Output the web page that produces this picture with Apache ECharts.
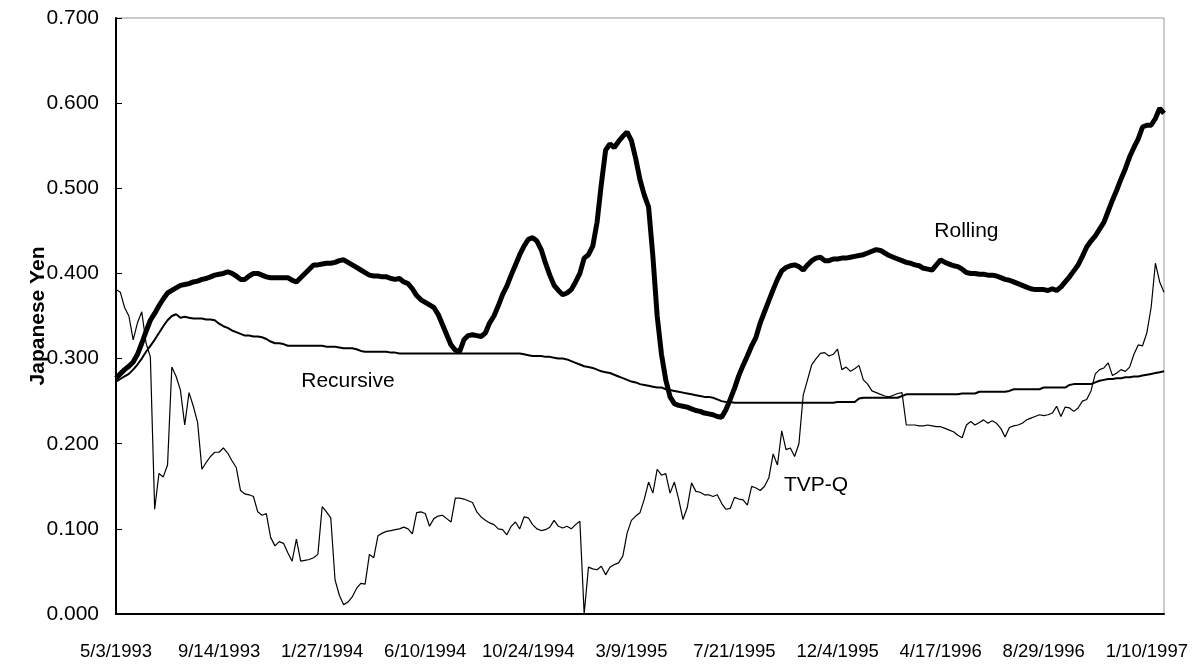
<!DOCTYPE html>
<html><head><meta charset="utf-8">
<script src="https://cdn.jsdelivr.net/npm/echarts/dist/echarts.min.js"></script>
<style>html,body{margin:0;padding:0;background:#fff}#c{width:1192px;height:669px}</style>
</head><body><div id="c"></div>
<script>
// Tick labels on the category axis (one every 24 samples; samples are every 4 trading days)
const tickLabels = ['5/3/1993','9/14/1993','1/27/1994','6/10/1994','10/24/1994','3/9/1995','7/21/1995','12/4/1995','4/17/1996','8/29/1996','1/10/1997'];
const samplesPerTick = 24;

const rolling = [
0.277,0.282,0.287,0.291,0.296,0.305,0.318,0.332,0.345,0.353,0.362,0.370,0.377,0.380,0.383,0.386,0.387,0.388,0.390,0.391,0.393,0.394,0.396,0.398,
0.399,0.400,0.402,0.400,0.397,0.393,0.393,0.397,0.400,0.400,0.398,0.396,0.395,0.395,0.395,0.395,0.395,0.392,0.390,0.395,0.400,0.405,0.410,0.410,
0.411,0.412,0.412,0.413,0.415,0.416,0.413,0.410,0.407,0.404,0.401,0.398,0.397,0.397,0.396,0.396,0.394,0.393,0.394,0.390,0.388,0.382,0.374,0.369,
0.366,0.363,0.360,0.352,0.340,0.328,0.316,0.310,0.308,0.322,0.327,0.328,0.327,0.326,0.330,0.342,0.350,0.362,0.375,0.385,0.398,0.410,0.422,0.432,
0.440,0.442,0.438,0.428,0.412,0.398,0.386,0.380,0.375,0.377,0.381,0.390,0.400,0.418,0.422,0.432,0.460,0.505,0.545,0.552,0.548,0.555,0.561,0.566,
0.556,0.535,0.510,0.492,0.478,0.420,0.350,0.305,0.275,0.255,0.247,0.245,0.244,0.243,0.241,0.239,0.238,0.236,0.235,0.234,0.232,0.231,0.240,0.252,
0.265,0.280,0.292,0.303,0.315,0.325,0.342,0.355,0.368,0.381,0.393,0.403,0.407,0.409,0.410,0.408,0.404,0.410,0.415,0.418,0.419,0.415,0.415,0.417,
0.417,0.418,0.418,0.419,0.420,0.421,0.422,0.424,0.426,0.428,0.427,0.424,0.421,0.419,0.417,0.415,0.413,0.412,0.410,0.409,0.406,0.405,0.404,0.410,
0.416,0.413,0.411,0.409,0.408,0.405,0.401,0.400,0.400,0.399,0.399,0.398,0.398,0.397,0.395,0.393,0.392,0.390,0.388,0.386,0.384,0.382,0.381,0.381,
0.381,0.380,0.382,0.380,0.384,0.390,0.396,0.403,0.410,0.420,0.431,0.438,0.444,0.452,0.460,0.473,0.486,0.498,0.511,0.523,0.537,0.548,0.558,0.572,
0.574,0.574,0.582,0.594,0.588];

const recursive = [
0.273,0.276,0.279,0.282,0.287,0.293,0.300,0.308,0.315,0.322,0.330,0.338,0.345,0.350,0.352,0.348,0.349,0.348,0.347,0.347,0.347,0.346,0.346,0.345,
0.341,0.338,0.336,0.333,0.331,0.329,0.327,0.327,0.326,0.326,0.325,0.323,0.320,0.318,0.318,0.317,0.315,0.315,0.315,0.315,0.315,0.315,0.315,0.315,
0.315,0.314,0.314,0.314,0.313,0.312,0.312,0.312,0.311,0.309,0.308,0.308,0.308,0.308,0.308,0.308,0.307,0.307,0.306,0.306,0.306,0.306,0.306,0.306,
0.306,0.306,0.306,0.306,0.306,0.306,0.306,0.306,0.306,0.306,0.306,0.306,0.306,0.306,0.306,0.306,0.306,0.306,0.306,0.306,0.306,0.306,0.306,0.305,
0.304,0.303,0.303,0.303,0.302,0.302,0.301,0.300,0.300,0.299,0.297,0.295,0.293,0.291,0.290,0.289,0.287,0.285,0.284,0.283,0.281,0.279,0.277,0.275,
0.273,0.272,0.270,0.269,0.268,0.267,0.266,0.266,0.264,0.263,0.262,0.261,0.260,0.259,0.258,0.257,0.256,0.255,0.255,0.254,0.252,0.250,0.249,0.249,
0.248,0.248,0.248,0.248,0.248,0.248,0.248,0.248,0.248,0.248,0.248,0.248,0.248,0.248,0.248,0.248,0.248,0.248,0.248,0.248,0.248,0.248,0.248,0.248,
0.249,0.249,0.249,0.249,0.249,0.253,0.254,0.254,0.254,0.254,0.254,0.254,0.254,0.254,0.254,0.256,0.258,0.258,0.258,0.258,0.258,0.258,0.258,0.258,
0.258,0.258,0.258,0.258,0.258,0.259,0.259,0.259,0.259,0.261,0.261,0.261,0.261,0.261,0.261,0.261,0.262,0.264,0.264,0.264,0.264,0.264,0.264,0.264,
0.266,0.266,0.266,0.266,0.266,0.266,0.269,0.270,0.270,0.270,0.270,0.270,0.272,0.274,0.275,0.276,0.276,0.277,0.277,0.278,0.278,0.279,0.279,0.280,
0.281,0.282,0.283,0.284,0.285];

const tvpq = [
0.381,0.378,0.360,0.350,0.322,0.342,0.355,0.318,0.302,0.123,0.165,0.161,0.175,0.290,0.279,0.263,0.222,0.260,0.244,0.225,0.170,0.178,0.185,0.190,
0.190,0.195,0.189,0.180,0.172,0.145,0.141,0.140,0.138,0.120,0.116,0.118,0.090,0.080,0.085,0.083,0.072,0.062,0.088,0.062,0.063,0.064,0.066,0.070,
0.126,0.120,0.113,0.040,0.022,0.011,0.014,0.020,0.030,0.036,0.035,0.070,0.066,0.092,0.095,0.097,0.098,0.099,0.100,0.102,0.100,0.094,0.119,0.120,
0.118,0.103,0.112,0.115,0.116,0.112,0.108,0.136,0.136,0.135,0.133,0.131,0.120,0.114,0.110,0.107,0.105,0.100,0.099,0.093,0.103,0.108,0.100,0.114,
0.113,0.105,0.100,0.098,0.099,0.102,0.110,0.103,0.101,0.103,0.100,0.105,0.109,0.000,0.055,0.053,0.052,0.056,0.046,0.055,0.058,0.060,0.068,0.095,
0.110,0.115,0.119,0.135,0.155,0.142,0.170,0.163,0.165,0.142,0.155,0.135,0.111,0.125,0.154,0.144,0.143,0.140,0.140,0.138,0.140,0.130,0.123,0.124,
0.137,0.135,0.134,0.128,0.150,0.148,0.145,0.150,0.160,0.188,0.175,0.215,0.193,0.195,0.185,0.200,0.257,0.275,0.293,0.300,0.306,0.307,0.303,0.305,
0.311,0.287,0.290,0.285,0.288,0.292,0.275,0.270,0.262,0.260,0.258,0.256,0.255,0.257,0.259,0.260,0.222,0.222,0.222,0.221,0.221,0.222,0.221,0.220,
0.220,0.218,0.216,0.214,0.210,0.207,0.222,0.226,0.222,0.225,0.228,0.224,0.227,0.224,0.218,0.208,0.219,0.221,0.222,0.224,0.228,0.230,0.232,0.234,
0.233,0.234,0.236,0.244,0.232,0.243,0.242,0.238,0.242,0.250,0.252,0.262,0.282,0.287,0.289,0.295,0.280,0.283,0.287,0.285,0.290,0.305,0.316,0.315,
0.330,0.360,0.412,0.390,0.378];

const seriesNames = ['Rolling', 'Recursive', 'TVP-Q'];
// label anchors in data units: [sample index, value]
const labelAnchors = { 'Rolling': [198, 0.45], 'Recursive': [54, 0.274], 'TVP-Q': [163, 0.151] };

const categories = rolling.map((_, i) => i % samplesPerTick === 0 ? tickLabels[i / samplesPerTick] : String(i));

const FONT = '"Liberation Sans", Arial, sans-serif';

function mkSeries(name, data, width, z) {
  return {
    name: name, type: 'line', data: data, showSymbol: false, symbol: 'none',
    lineStyle: { color: '#000', width: width }, z: z, animation: false,
    markPoint: {
      symbol: 'circle', symbolSize: 1, itemStyle: { color: 'rgba(0,0,0,0)' },
      label: { show: true, position: 'inside', formatter: name, color: '#000', fontSize: 21, fontFamily: FONT },
      data: [{ coord: labelAnchors[name] }]
    }
  };
}

const chart = echarts.init(document.getElementById('c'), null, { renderer: 'canvas' });
chart.setOption({
  animation: false,
  backgroundColor: '#fff',
  grid: { left: 116, right: 28, top: 18, bottom: 55, show: true, borderColor: '#999', borderWidth: 1 },
  xAxis: {
    type: 'category', data: categories, boundaryGap: false,
    axisLine: { lineStyle: { color: '#000', width: 2 } },
    axisTick: { show: false },
    splitLine: { show: false },
    axisLabel: {
      interval: samplesPerTick - 1, margin: 28, color: '#000', fontSize: 18.5, fontFamily: FONT,
      formatter: v => tickLabels.indexOf(v) >= 0 ? v : ''
    }
  },
  yAxis: {
    type: 'value', min: 0, max: 0.7, interval: 0.1,
    name: 'Japanese Yen', nameLocation: 'middle', nameGap: 67, nameMoveOverlap: false,
    nameTextStyle: { color: '#000', fontSize: 21, fontWeight: 'bold', fontFamily: FONT },
    axisLine: { show: true, lineStyle: { color: '#000', width: 2 } },
    axisTick: { show: true, inside: true, length: 6, lineStyle: { color: '#000' } },
    splitLine: { show: false },
    axisLabel: { margin: 17, color: '#000', fontSize: 21, fontFamily: FONT, formatter: v => v.toFixed(3) }
  },
  series: [
    mkSeries('TVP-Q', tvpq, 1.2, 2),
    mkSeries('Recursive', recursive, 2, 3),
    mkSeries('Rolling', rolling, 5, 4)
  ]
});
</script>
</body></html>
